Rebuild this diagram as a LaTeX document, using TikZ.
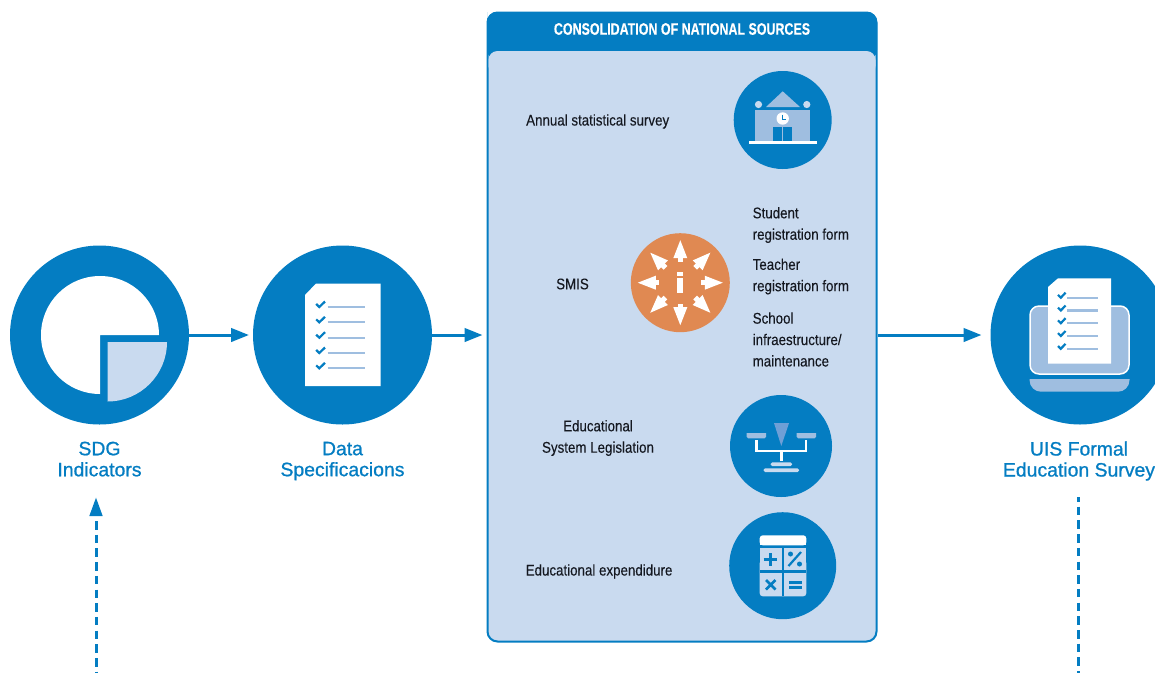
\documentclass[tikz,border=0pt]{standalone}
\usepackage{fontspec}
\setmainfont{Liberation Sans}
\newfontfamily\narrowfont[FakeStretch=0.86,FakeBold=0.15]{Liberation Sans}
\newfontfamily\headfont[FakeStretch=0.75,FakeBold=0.3]{Liberation Sans Bold}
\newfontfamily\titlefont[FakeBold=0.9]{Liberation Sans}
\usetikzlibrary{arrows.meta}

\begin{document}
\begin{tikzpicture}[
        x=1pt, y=-1pt,
        disc/.style={circle, fill=uisblue, inner sep=0pt, outer sep=0pt, minimum size=179pt},
        small_disc/.style={circle, fill=uisblue, inner sep=0pt, outer sep=0pt},
        title_node/.style={font=\titlefont\fontsize{19.4}{21}\selectfont, text=uisblue, align=center, text depth=0pt},
        body_node/.style={font=\narrowfont\fontsize{15.5}{21.4}\selectfont, text=inkblack, align=left, inner sep=0pt},
        flow/.style={line width=3pt, draw=uisblue, -{Triangle[length=18pt, width=13.4pt]}},
        feed/.style={line width=3pt, draw=uisblue, dash pattern=on 8.5pt off 5.2pt},
        sheet line/.style={line width=2.3pt, draw=midblue},
        tick mark/.style={line width=2.2pt, draw=uisblue}
    ]

        \definecolor{uisblue}{RGB}{4, 125, 194}
        \definecolor{paleblue}{RGB}{201, 218, 239}
        \definecolor{midblue}{RGB}{159, 190, 224}
        \definecolor{deepblue}{RGB}{111, 159, 214}
        \definecolor{orangedisc}{RGB}{224, 137, 82}
        \definecolor{inkblack}{RGB}{20, 24, 32}

        \useasboundingbox (0, 0) rectangle (1155, 673);
        \clip (0, 0) rectangle (1155, 673);

        \node[disc] (sdg) at (99.5, 335) {};
        \node[disc] (spec) at (342.5, 335) {};
        \node[disc] (survey) at (1080, 335) {};

        \node[title_node] (sdg_text) at (99.5, 459) {SDG\\Indicators};
        \node[title_node] (spec_text) at (342.5, 459) {Data\\Specificacions};
        \node[title_node] (survey_text) at (1079, 459) {UIS Formal\\Education Survey};

        % consolidation panel
        \node[draw=uisblue, fill=paleblue, line width=2pt, rounded corners=10pt, minimum width=389pt, minimum height=629pt, inner sep=0pt] (panel) at (682, 327) {};
        \fill[uisblue, rounded corners=10pt] (487, 22) -- (487, 12) -- (877, 12) -- (877, 60) -- (487, 60) -- cycle;
        \fill[paleblue, rounded corners=9pt] (488.5, 75) -- (488.5, 51) -- (875.5, 51) -- (875.5, 75) -- cycle;
        \node[font=\headfont\fontsize{16.6}{18}\selectfont, text=white, inner sep=0pt] (panel_title) at (682, 29) {CONSOLIDATION OF NATIONAL SOURCES};

        \node[small_disc, minimum size=98pt] (school) at (782.7, 120) {};
        \node[small_disc, minimum size=99pt, fill=orangedisc] (smis) at (680.3, 282.7) {};
        \node[small_disc, minimum size=102pt] (law) at (781, 446) {};
        \node[small_disc, minimum size=107pt] (calc) at (782.7, 565.7) {};

        \node[body_node, anchor=west] (annual_text) at (526, 121.5) {Annual statistical survey};
        \node[body_node, anchor=west] (smis_text) at (556, 284) {SMIS};
        \node[body_node, anchor=west] (student_text) at (752.5, 225) {Student\\registration form};
        \node[body_node, anchor=west] (teacher_text) at (752.5, 276.5) {Teacher\\registration form};
        \node[body_node, anchor=west] (facility_text) at (752.5, 339.5) {School\\infraestructure/\\maintenance};
        \node[body_node, anchor=center, align=center] (law_text) at (598, 438) {Educational\\System Legislation};
        \node[body_node, anchor=west] (cost_text) at (525.5, 571.5) {Educational expendidure};

        \draw[flow, shorten >=4pt] (sdg) -- (spec);
        \draw[flow, shorten >=4pt] (spec.east) -- (panel.west |- spec.east);
        \draw[flow, shorten >=9pt] (panel.east |- survey.west) -- (survey.west);

        \coordinate (feed_start) at (96, 673);
        \coordinate (feed_top) at (96, 521);
        \coordinate (drop_top) at (1078, 497.3);
        \coordinate (drop_end) at (1078, 673);
        \draw[feed] (feed_top) -- (feed_start);
        \fill[uisblue] (96, 497.7) -- (102.7, 516) -- (89.3, 516) -- cycle;
        \draw[feed, dash phase=4.3pt] (drop_top) -- (drop_end);

        % sdg icon
        \fill[white] (100, 335) -- (159, 335) arc (0:-270:59) -- cycle;
        \fill[paleblue] (107.5, 342) -- (167, 342) arc (0:90:59.5) -- cycle;

        % data sheet
        \fill[white] (305, 295) -- (316, 283.5) -- (380.5, 283.5) -- (380.5, 386) -- (305, 386) -- cycle;
        \foreach \y in {307, 322.3, 337.7, 353, 368.3} {
            \draw[sheet line] (327.5, \y) -- (365, \y);
            \draw[tick mark] (316.2, \y-3) -- (319.3, \y) -- (325, \y-5.5);
        }

        % survey laptop
        \draw[white, fill=midblue, line width=1.5pt, rounded corners=9pt] (1030, 306) rectangle (1129, 374);
        \fill[midblue] (1029.5, 379) -- (1129.5, 379) -- (1129.5, 380) .. controls (1129.5, 387) and (1124, 391.7) .. (1118, 391.7) -- (1041, 391.7) .. controls (1035, 391.7) and (1029.5, 387) .. (1029.5, 380) -- cycle;
        \fill[white] (1048, 287) -- (1058, 278.3) -- (1111, 278.3) -- (1111, 363.7) -- (1048, 363.7) -- cycle;
        \foreach \y in {297.7, 310.5, 323.2, 336, 348.8} {
            \draw[sheet line] (1067, \y) -- (1098, \y);
            \draw[tick mark] (1058, \y-2.8) -- (1060.8, \y) -- (1065.5, \y-5);
        }

        % school
        \fill[midblue] (755, 110) rectangle (810, 141);
        \fill[midblue] (766, 107) -- (782.7, 91.3) -- (800, 107) -- cycle;
        \fill[paleblue] (758.5, 104.5) circle (3.6) (806.8, 104.5) circle (3.6);
        \fill[white] (782.7, 118.5) circle (6.2);
        \draw[uisblue, line width=0.8pt] (782.7, 114.5) -- (782.7, 119) -- (786, 119);
        \fill[uisblue] (773, 126.7) rectangle (792, 141);
        \draw[midblue, line width=0.8pt] (782.5, 126.7) -- (782.5, 141);
        \fill[white] (749, 141) rectangle (817, 144);

        % smis arrows
        \foreach \a in {0, 45, ..., 315} {
            \begin{scope}[shift={(smis)}, rotate=\a]
                \fill[white] (21, -2.6) rectangle (26, 2.6);
                \fill[white] (42.5, 0) -- (24.5, -7) -- (24.5, 7) -- cycle;
            \end{scope}
        }
        \fill[white] (677.3, 272.3) rectangle (683.3, 276);
        \fill[white] (677.3, 277.5) rectangle (683.3, 292.7);

        % scales
        \fill[midblue, rounded corners=1.5pt] (746.7, 430) -- (766, 430) -- (766, 438.3) -- (746.7, 438.3) -- cycle;
        \fill[midblue, rounded corners=1.5pt] (796.7, 430) -- (816, 430) -- (816, 438.3) -- (796.7, 438.3) -- cycle;
        \fill[uisblue] (745, 428) rectangle (818, 433);
        \fill[deepblue] (774, 423) -- (789, 423) -- (781.3, 446) -- cycle;
        \draw[white, line width=2.6pt] (756.5, 440) -- (756.5, 451) -- (806, 451) -- (806, 440);
        \draw[white, line width=2.6pt] (781.3, 451) -- (781.3, 461);
        \fill[paleblue, rounded corners=1.5pt] (770.7, 462.3) rectangle (792, 466);
        \fill[paleblue, rounded corners=1.5pt] (763.5, 468.3) rectangle (799, 472);

        % calculator
        \fill[white, rounded corners=3pt] (759.7, 535.3) rectangle (806.3, 545.3);
        \fill[white] (759.7, 540) rectangle (806.3, 545.3);
        \fill[paleblue] (759.7, 548) rectangle (806.3, 570);
        \fill[paleblue, rounded corners=3pt] (759.7, 560) rectangle (806.3, 596.3);
        \draw[uisblue, line width=2pt] (783, 548) -- (783, 596.3);
        \draw[uisblue, line width=3.3pt] (759.7, 571.7) -- (806.3, 571.7);
        \draw[uisblue, line width=2.4pt] (763.5, 559.5) -- (777, 559.5) (770.3, 553) -- (770.3, 566);
        \draw[uisblue, line width=2.2pt] (788.5, 566) -- (801, 552);
        \fill[uisblue] (790.5, 554) circle (2.5) (799.5, 564) circle (2.5);
        \draw[uisblue, line width=2.6pt] (766, 580) -- (775.5, 589.5) (775.5, 580) -- (766, 589.5);
        \draw[uisblue, line width=2.2pt] (789, 582.5) -- (802, 582.5) (789, 587.5) -- (802, 587.5);

    \end{tikzpicture}
\end{document}
